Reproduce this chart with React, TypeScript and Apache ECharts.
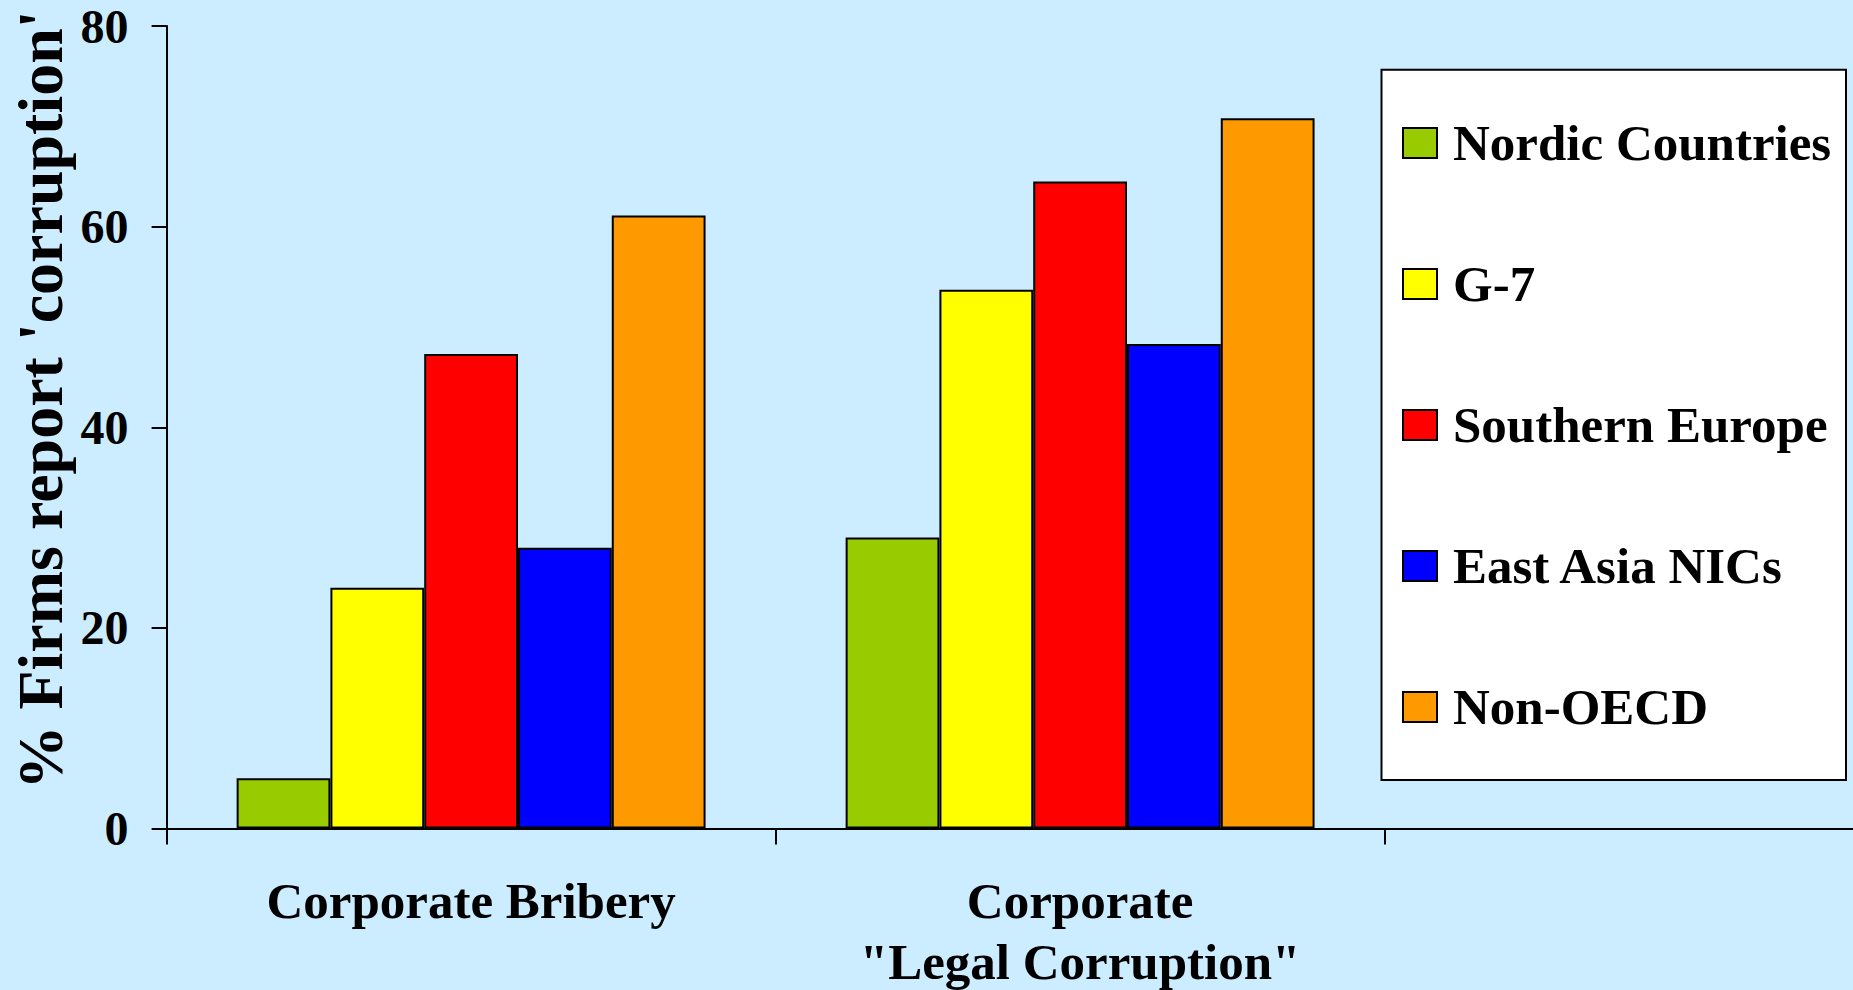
import React, { useEffect, useRef } from "react";
import * as echarts from "echarts";

const categories = ["Corporate Bribery", 'Corporate\n"Legal Corruption"', ""];
const seriesNames = ["Nordic Countries", "G-7", "Southern Europe", "East Asia NICs", "Non-OECD"];
const seriesColors = ["#99CC00", "#FFFF00", "#FF0000", "#0000FF", "#FF9900"];
const nordic = [5, 29, null];
const g7 = [24, 53.7, null];
const southernEurope = [47.3, 64.5, null];
const eastAsia = [28, 48.3, null];
const nonOecd = [61.1, 70.8, null];
const seriesValues = [nordic, g7, southernEurope, eastAsia, nonOecd];
const yTicks = [0, 20, 40, 60, 80];
const yTitle = "% Firms report 'corruption'";

const FONT = "'Liberation Serif', 'Times New Roman', serif";

export default function App() {
  const ref = useRef<HTMLDivElement>(null);
  useEffect(() => {
    if (!ref.current) return;
    const chart = echarts.init(ref.current, undefined, { renderer: "svg" });
    chart.setOption({
      animation: false,
      backgroundColor: "#CCECFF",
      grid: {
        left: 166.6,
        top: 26,
        width: 1827,
        height: 802.5,
        containLabel: false,
        outerBoundsMode: "none",
      },
      xAxis: {
        type: "category",
        data: categories,
        boundaryGap: true,
        axisLine: { show: true, lineStyle: { color: "#000", width: 2 } },
        axisTick: { show: true, length: 16, lineStyle: { color: "#000", width: 2 } },
        axisLabel: {
          color: "#000",
          fontFamily: FONT,
          fontWeight: "bold",
          fontSize: 51,
          lineHeight: 61,
          margin: 42,
          interval: 0,
        },
        splitLine: { show: false },
      },
      yAxis: {
        type: "value",
        min: yTicks[0],
        max: yTicks[yTicks.length - 1],
        interval: 20,
        axisLine: { show: true, lineStyle: { color: "#000", width: 2 } },
        axisTick: { show: true, length: 15, lineStyle: { color: "#000", width: 2 } },
        axisLabel: {
          color: "#000",
          fontFamily: FONT,
          fontWeight: "bold",
          fontSize: 48,
          margin: 38,
        },
        splitLine: { show: false },
      },
      legend: {
        orient: "vertical",
        left: 1402,
        top: 117.5,
        padding: 0,
        z: 5,
        itemWidth: 34,
        itemHeight: 30,
        itemGap: 90,
        icon: "rect",
        data: seriesNames,
        textStyle: {
          color: "#000",
          fontFamily: FONT,
          fontWeight: "bold",
          fontSize: 51,
          lineHeight: 51,
          padding: [0, 0, 0, 11],
        },
      },
      graphic: [
        {
          type: "rect",
          z: 1,
          shape: { x: 1381.5, y: 69.7, width: 464.5, height: 710.3 },
          style: { fill: "#FFFFFF", stroke: "#000", lineWidth: 2 },
        },
        {
          type: "text",
          z: 5,
          x: 40,
          y: 400,
          rotation: Math.PI / 2,
          style: {
            text: yTitle,
            fill: "#000",
            font: `bold 64px ${FONT}`,
            textAlign: "center",
            textVerticalAlign: "middle",
          },
        },
      ],
      series: seriesNames.map((name, i) => ({
        name,
        type: "bar",
        data: seriesValues[i],
        barGap: "0%",
        barCategoryGap: "23%",
        itemStyle: { color: seriesColors[i], borderColor: "#000", borderWidth: 2 },
      })),
    });
    return () => chart.dispose();
  }, []);
  return (
    <div
      ref={ref}
      style={{ position: "fixed", left: 0, top: 0, width: "1853px", height: "990px" }}
    />
  );
}
